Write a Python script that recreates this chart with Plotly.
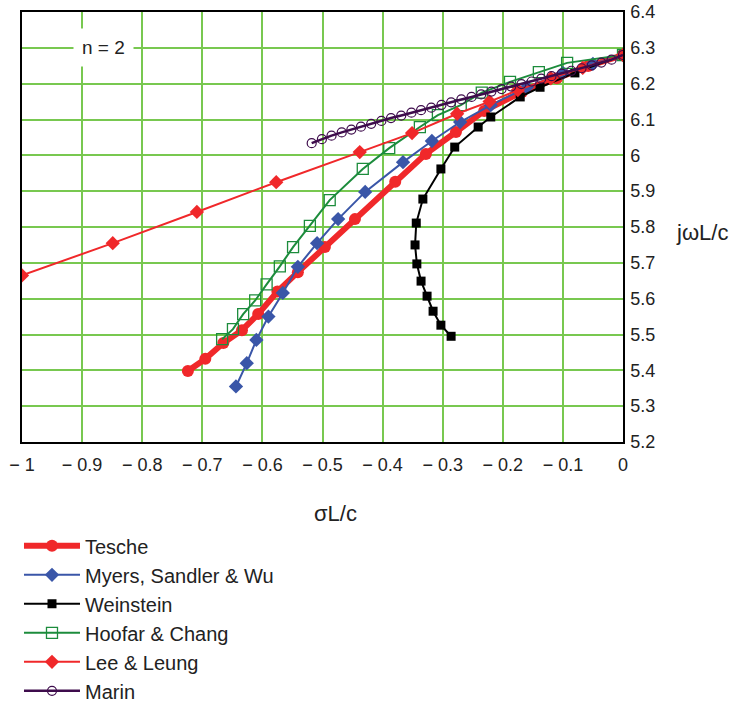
import plotly.graph_objects as go

# ---------------- data ----------------
tesche_x = [-0.724, -0.695, -0.665, -0.634, -0.607, -0.575, -0.541, -0.496, -0.446, -0.379,
            -0.328, -0.278, -0.231, -0.168, -0.11, -0.058, 0.0]
tesche_y = [5.398, 5.432, 5.476, 5.512, 5.557, 5.62, 5.674, 5.744, 5.822, 5.926,
            6.004, 6.065, 6.124, 6.177, 6.215, 6.249, 6.28]

myers_x = [-0.644, -0.626, -0.61, -0.59, -0.566, -0.541, -0.509, -0.474, -0.429, -0.366,
           -0.318, -0.271, -0.22, -0.16, -0.1, -0.05, 0.0]
myers_y = [5.355, 5.42, 5.485, 5.55, 5.616, 5.689, 5.755, 5.822, 5.898, 5.981,
           6.04, 6.093, 6.14, 6.19, 6.23, 6.255, 6.28]

weinstein_x = [-0.286, -0.303, -0.316, -0.326, -0.336, -0.343, -0.346, -0.344, -0.333,
               -0.303, -0.28, -0.241, -0.22, -0.171, -0.138, -0.08, 0.0]
weinstein_y = [5.495, 5.526, 5.565, 5.607, 5.649, 5.697, 5.75, 5.811, 5.878,
               5.962, 6.023, 6.079, 6.107, 6.163, 6.19, 6.23, 6.28]

hoofar_x = [-0.667, -0.649, -0.632, -0.612, -0.593, -0.571, -0.549, -0.521, -0.488, -0.433,
            -0.389, -0.338, -0.308, -0.27, -0.235, -0.188, -0.14, -0.093, 0.0]
hoofar_y = [5.487, 5.515, 5.557, 5.595, 5.64, 5.69, 5.744, 5.803, 5.875, 5.962,
            6.02, 6.079, 6.112, 6.14, 6.175, 6.205, 6.232, 6.258, 6.28]

lee_x = [-1.0, -0.849, -0.709, -0.577, -0.438, -0.351, -0.276, -0.222, -0.175, -0.12, -0.067, 0.0]
lee_y = [5.665, 5.755, 5.842, 5.925, 6.009, 6.062, 6.116, 6.15, 6.182, 6.215, 6.244, 6.28]

marin_x = [-0.518, -0.501, -0.485, -0.468, -0.452, -0.436, -0.419, -0.402, -0.386, -0.369,
           -0.352, -0.336, -0.319, -0.302, -0.286, -0.269, -0.252, -0.236, -0.219, -0.202,
           -0.186, -0.169, -0.152, -0.136, -0.119, -0.102, -0.086, -0.069, -0.052, -0.036,
           -0.019, 0.0]
marin_y = [6.034, 6.045, 6.055, 6.064, 6.072, 6.080, 6.088, 6.096, 6.104, 6.111,
           6.119, 6.126, 6.133, 6.141, 6.148, 6.156, 6.163, 6.170, 6.178, 6.185,
           6.192, 6.199, 6.206, 6.214, 6.221, 6.228, 6.236, 6.243, 6.251, 6.259,
           6.267, 6.28]

x_ticks = [-1, -0.9, -0.8, -0.7, -0.6, -0.5, -0.4, -0.3, -0.2, -0.1, 0]
x_ticktext = ["\u2212 1", "\u2212 0.9", "\u2212 0.8", "\u2212 0.7", "\u2212 0.6", "\u2212 0.5",
              "\u2212 0.4", "\u2212 0.3", "\u2212 0.2", "\u2212 0.1", "0"]
y_ticks = [5.2, 5.3, 5.4, 5.5, 5.6, 5.7, 5.8, 5.9, 6.0, 6.1, 6.2, 6.3, 6.4]
y_ticktext = ["5.2", "5.3", "5.4", "5.5", "5.6", "5.7", "5.8", "5.9", "6", "6.1", "6.2", "6.3", "6.4"]

FONT = "Liberation Sans, Arial, sans-serif"
RED = "#f0282a"
BLUE = "#3a56a8"
GREEN = "#1c8c3c"
PURPLE = "#3e0c4c"
GRID = "#78c850"

fig = go.Figure()

fig.add_trace(go.Scatter(x=tesche_x, y=tesche_y, name="Tesche", mode="lines+markers",
                         line=dict(color=RED, width=6),
                         marker=dict(symbol="circle", size=12, color=RED)))
fig.add_trace(go.Scatter(x=myers_x, y=myers_y, name="Myers, Sandler & Wu", mode="lines+markers",
                         line=dict(color=BLUE, width=2),
                         marker=dict(symbol="diamond", size=11, color=BLUE)))
fig.add_trace(go.Scatter(x=weinstein_x, y=weinstein_y, name="Weinstein", mode="lines+markers",
                         line=dict(color="black", width=2),
                         marker=dict(symbol="square", size=9, color="black")))
fig.add_trace(go.Scatter(x=hoofar_x, y=hoofar_y, name="Hoofar & Chang", mode="lines+markers",
                         line=dict(color=GREEN, width=2),
                         marker=dict(symbol="square-open", size=11, color=GREEN,
                                     line=dict(width=1.3, color=GREEN))))
fig.add_trace(go.Scatter(x=lee_x, y=lee_y, name="Lee & Leung", mode="lines+markers",
                         line=dict(color=RED, width=2),
                         marker=dict(symbol="diamond", size=11, color=RED)))
fig.add_trace(go.Scatter(x=marin_x, y=marin_y, name="Marin", mode="lines+markers",
                         line=dict(color=PURPLE, width=2.5),
                         marker=dict(symbol="circle-open", size=9, color=PURPLE,
                                     line=dict(width=1.2, color=PURPLE))))

fig.update_layout(
    width=735, height=704,
    margin=dict(l=22, r=112, t=12, b=262, autoexpand=False),
    paper_bgcolor="white", plot_bgcolor="white",
    font=dict(family=FONT, size=18, color="#222222"),
    showlegend=True,
    legend=dict(x=-0.005, y=-0.196, xanchor="left", yanchor="top",
                font=dict(family=FONT, size=20, color="#222222"),
                bgcolor="rgba(0,0,0,0)", tracegroupgap=0, itemwidth=56),
    xaxis=dict(range=[-1, 0], tickvals=x_ticks, ticktext=x_ticktext,
               showgrid=True, gridcolor=GRID, gridwidth=2,
               showline=True, linecolor="black", linewidth=1.5, mirror=True,
               ticks="", zeroline=False, ticklabelstandoff=6,
               tickfont=dict(family=FONT, size=18, color="#222222")),
    yaxis=dict(range=[5.2, 6.4], tickvals=y_ticks, ticktext=y_ticktext, side="right",
               showgrid=True, gridcolor=GRID, gridwidth=2,
               showline=True, linecolor="black", linewidth=1.5, mirror=True,
               ticks="", zeroline=False, ticklabelstandoff=2,
               tickfont=dict(family=FONT, size=18, color="#222222")),
    annotations=[
        dict(text="n = 2", x=-0.865, y=6.3, xref="x", yref="y", showarrow=False,
             font=dict(family=FONT, size=19, color="#222222"),
             bgcolor="white", borderpad=8),
        dict(text="\u03c3L/c", x=0.521, y=-0.2, xref="paper", yref="paper", showarrow=False,
             font=dict(family=FONT, size=22, color="#222222")),
        dict(text="j\u03c9L/c", x=1.085, y=0.488, xref="paper", yref="paper", showarrow=False,
             xanchor="left", font=dict(family=FONT, size=22, color="#222222")),
    ],
)

fig.write_html("out.html")
